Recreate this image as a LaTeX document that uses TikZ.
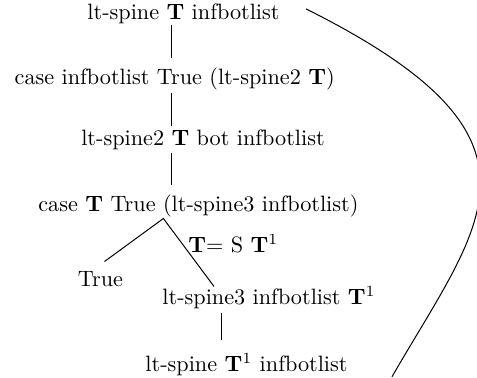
\documentclass[tikz,border=0pt]{standalone}
\usepackage{tikz}

\begin{document}
\begin{tikzpicture}[
    x=0.45pt, y=-0.45pt,
    % Estilo dos termos da arvore: texto puro, ancorado na linha de base
    termo/.style={inner sep=0pt, anchor=base},
    ramo/.style={line width=0.45pt}
]

% === PARAMETROS ===
\def\xTronco{172}  % abscissa do tronco vertical
% ==================

\useasboundingbox (0,0) rectangle (477,378);
\clip (0,0) rectangle (477,378);

% --- Termos (Nodes) ---
\node[termo] (t1) at (183.5,20) {lt-spine \textbf{T} infbotlist};
\node[termo] (t2) at (174.7,85) {case infbotlist True (lt-spine2 \textbf{T})};
\node[termo] (t3) at (203,146) {lt-spine2 \textbf{T} bot infbotlist};
\node[termo] (t4) at (198.4,212) {case \textbf{T} True (lt-spine3 infbotlist)};
\node[termo, anchor=base west] (caso) at (188,253) {\textbf{T}= S \textbf{T}$^1$};
\node[termo] (t5) at (100.5,287) {True};
\node[termo, anchor=base west] (t6) at (162,305) {lt-spine3 infbotlist \textbf{T}$^1$};
\node[termo, anchor=base west] (t7) at (145,372) {lt-spine \textbf{T}$^1$ infbotlist};

% --- Tronco vertical ---
\draw[ramo] (t1.south -| \xTronco,0) -- ([yshift=4.5pt]t2.north -| \xTronco,0);
\draw[ramo] ([yshift=-1pt]t2.south -| \xTronco,0) -- ([yshift=1.6pt]t3.north -| \xTronco,0);
\draw[ramo] ([yshift=-0.8pt]t3.south -| \xTronco,0) -- ([yshift=4.6pt]t4.north -| \xTronco,0);

% --- Bifurcacao do case ---
\coordinate (vertice) at ([shift={(-35,0.5)}]t4.south);
\draw[ramo] ([shift={(4,-10)}]t5.north) -- (vertice) -- ([shift={(52,0)}]t6.north west);
\draw[ramo] ([shift={(60,3)}]t6.south west) -- ([shift={(77,-13)}]t7.north west);

% --- Retorno (curva que sai pela borda) ---
\draw[ramo] ([shift={(26,5)}]t1.north east)
    .. controls +(260,130) and +(90,-156) .. ([shift={(44,0)}]t7.south east);

\end{tikzpicture}
\end{document}
